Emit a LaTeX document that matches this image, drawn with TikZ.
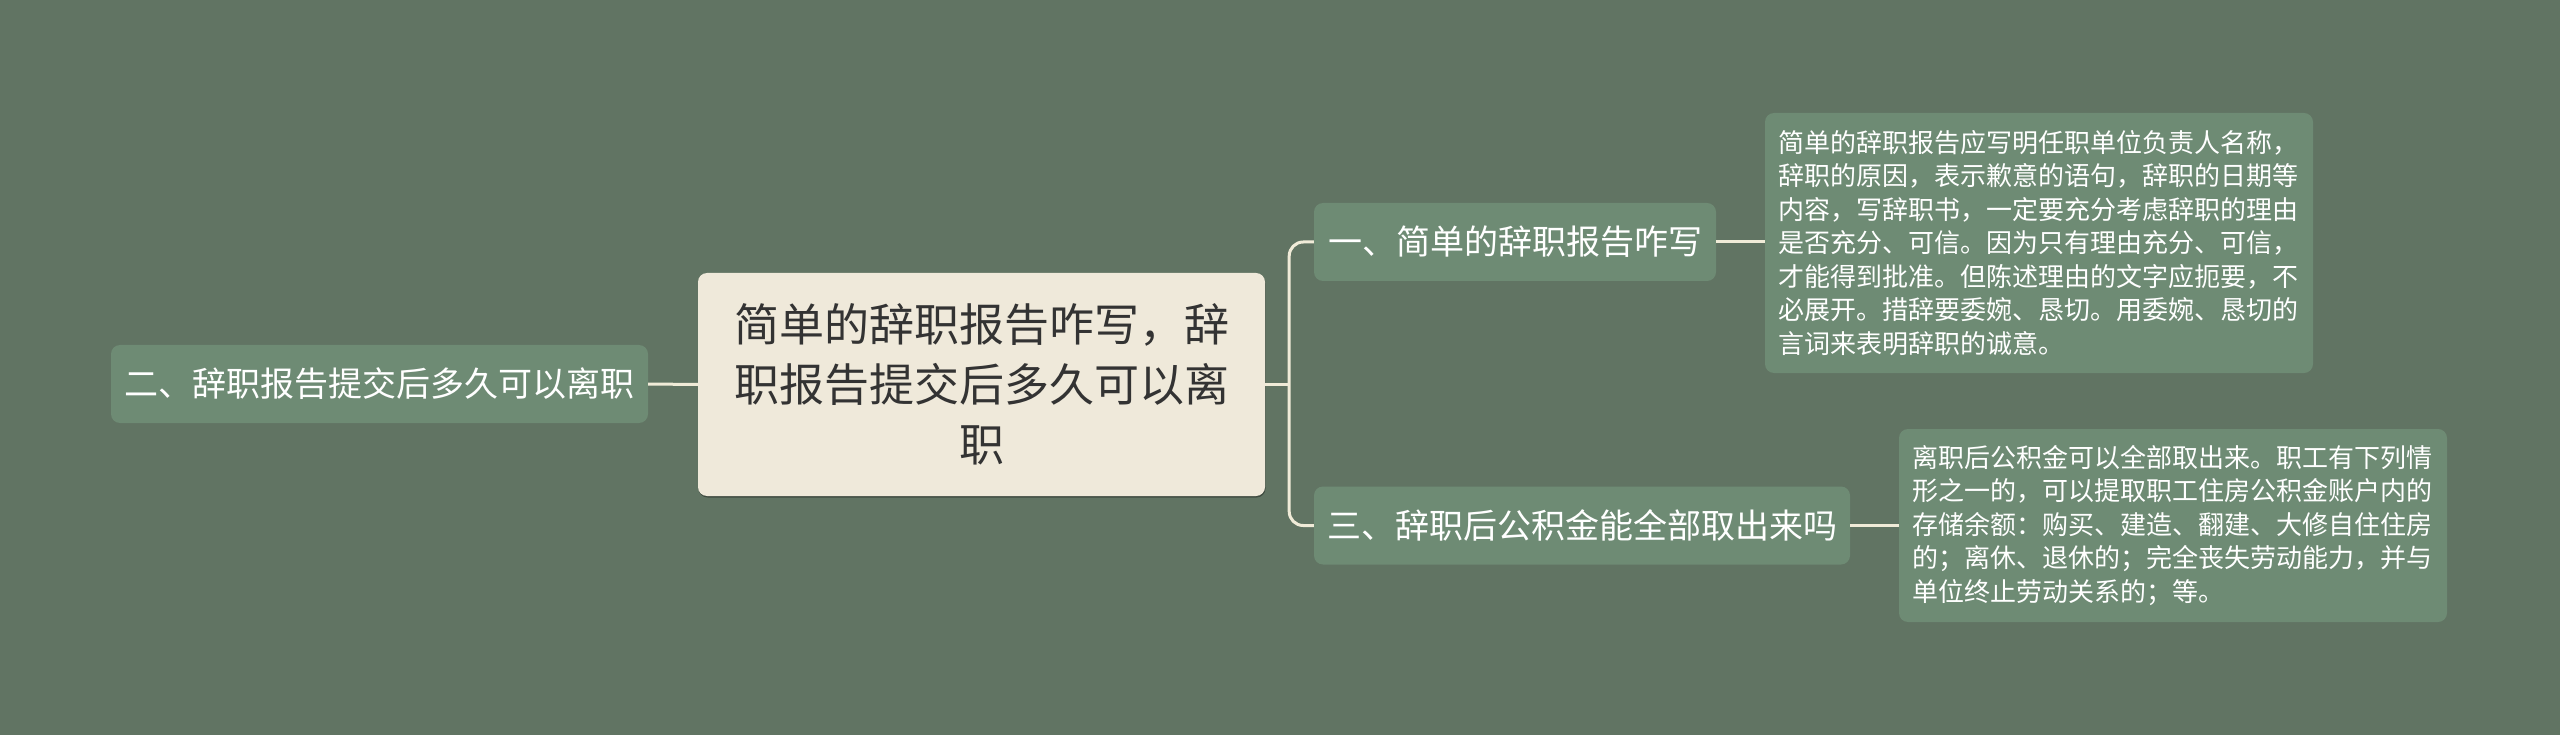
\documentclass[tikz,border=0pt]{standalone}
\usepackage{fontspec}
\setmainfont{Noto Sans CJK SC}
\usetikzlibrary{calc,shadows}
\definecolor{bgcol}{HTML}{617463}
\definecolor{nodefill}{HTML}{6E8B74}
\definecolor{rootfill}{HTML}{EFE9DA}
\definecolor{linecol}{HTML}{F0EBD8}
\definecolor{roottext}{HTML}{333333}
\begin{document}
\begin{tikzpicture}[x=1pt,y=-1pt,
  rootbox/.style={fill=rootfill, rounded corners=9pt, inner sep=0pt,
    minimum width=567pt, minimum height=223pt, text=roottext, align=center,
    text width=500pt, font=\fontsize{45}{60}\selectfont,
    drop shadow={shadow xshift=0.5pt, shadow yshift=-1.5pt, opacity=0.35, fill=black}},
  topicbox/.style={fill=nodefill, rounded corners=9pt, inner sep=0pt,
    minimum height=78pt, text=white, font=\fontsize{34}{40}\selectfont},
  detailbox/.style={fill=nodefill, rounded corners=9pt, inner sep=0pt,
    minimum width=548pt, text=white, align=left, text width=522pt,
    font=\fontsize{26}{33.5}\selectfont},
  conn/.style={draw=linecol, line width=3pt}]
\useasboundingbox[fill=bgcol] (0,0) rectangle (2560,735);

\node[rootbox] (root) at (981.5,384.5) {简单的辞职报告咋写，辞\\职报告提交后多久可以离\\职};
\node[topicbox, minimum width=537pt] (left) at (379.5,384) {二、辞职报告提交后多久可以离职};
\node[topicbox, minimum width=402pt] (n1) at (1515,242) {一、简单的辞职报告咋写};
\node[topicbox, minimum width=536pt] (n3) at (1582,525.5) {三、辞职后公积金能全部取出来吗};
\node[detailbox, minimum height=260pt] (d1) at (2039,243) {简单的辞职报告应写明任职单位负责人名称，\\辞职的原因，表示歉意的语句，辞职的日期等\\内容，写辞职书，一定要充分考虑辞职的理由\\是否充分、可信。因为只有理由充分、可信，\\才能得到批准。但陈述理由的文字应扼要，不\\必展开。措辞要委婉、恳切。用委婉、恳切的\\言词来表明辞职的诚意。};
\node[detailbox, minimum height=193pt] (d3) at (2173,525.5) {离职后公积金可以全部取出来。职工有下列情\\形之一的，可以提取职工住房公积金账户内的\\存储余额：购买、建造、翻建、大修自住住房\\的；离休、退休的；完全丧失劳动能力，并与\\单位终止劳动关系的；等。};

\coordinate (jx) at ($(root.east)+(24,0)$);
\draw[conn] (left.east) -- (root.west);
\draw[conn] (root.east) -- (jx);
\draw[conn, rounded corners=14pt] (n1.west) -| (jx) |- (n3.west);
\draw[conn] (n1.east) -- (n1.east -| d1.west);
\draw[conn] (n3.east) -- (n3.east -| d3.west);
\end{tikzpicture}
\end{document}
